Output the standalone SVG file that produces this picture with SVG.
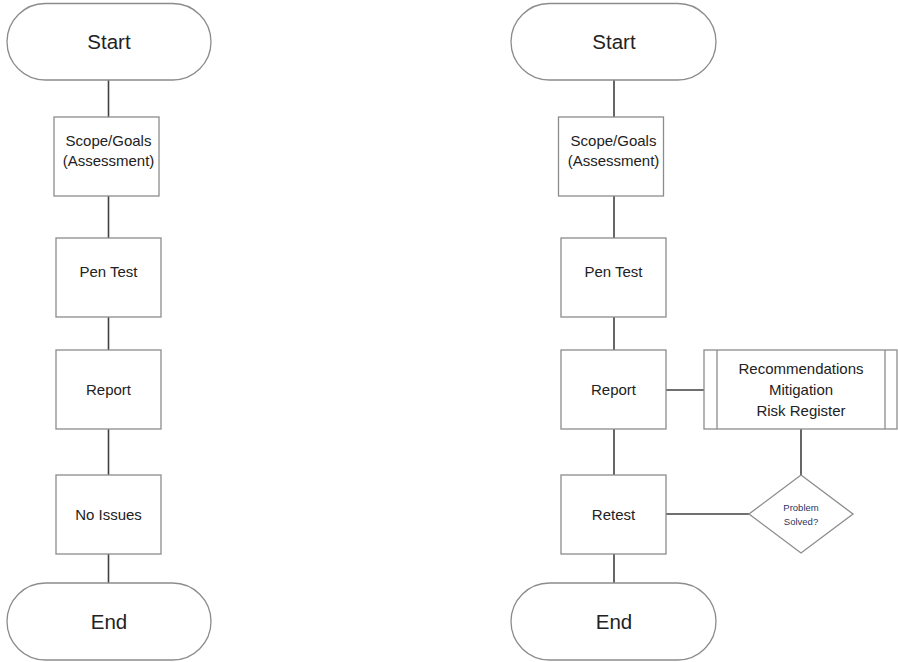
<svg xmlns="http://www.w3.org/2000/svg" width="898" height="662" viewBox="0 0 898 662">
<style>
.shape{fill:#ffffff;stroke:#8c8c8c;stroke-width:1.3}
.conn{stroke:#404040;stroke-width:1.6;fill:none}
.t{font-family:"Liberation Sans",Arial,sans-serif;font-size:15px;fill:#222;text-anchor:middle}
.big{font-size:20.5px}
.small{font-size:9.5px;fill:#1f3763}
</style>
<rect width="898" height="662" fill="#ffffff"/>
<g id="connectors">
<line class="conn" x1="108.5" y1="80" x2="108.5" y2="117"/>
<line class="conn" x1="108.5" y1="196" x2="108.5" y2="238"/>
<line class="conn" x1="108.5" y1="317" x2="108.5" y2="350"/>
<line class="conn" x1="108.5" y1="429" x2="108.5" y2="475"/>
<line class="conn" x1="108.5" y1="554" x2="108.5" y2="583"/>
<line class="conn" x1="614" y1="80" x2="614" y2="117"/>
<line class="conn" x1="614" y1="196" x2="614" y2="238"/>
<line class="conn" x1="614" y1="317" x2="614" y2="350"/>
<line class="conn" x1="614" y1="429" x2="614" y2="475"/>
<line class="conn" x1="614" y1="554" x2="614" y2="583"/>
<line class="conn" x1="666" y1="390" x2="704" y2="390"/>
<line class="conn" x1="801" y1="429" x2="801" y2="475"/>
<line class="conn" x1="666" y1="514" x2="749" y2="514"/>
</g>
<g id="start-left"><rect class="shape" x="7" y="3.5" width="204" height="76.5" rx="38.25"/><text class="t big" x="109" y="49">Start</text></g>
<g id="scope-left"><rect class="shape" x="54" y="117" width="105" height="79"/><text class="t" x="108.5" y="146">Scope/Goals</text><text class="t" x="108.5" y="166">(Assessment)</text></g>
<g id="pentest-left"><rect class="shape" x="56" y="238" width="105" height="79"/><text class="t" x="108.5" y="277">Pen Test</text></g>
<g id="report-left"><rect class="shape" x="56" y="350" width="105" height="79"/><text class="t" x="108.5" y="395">Report</text></g>
<g id="noissues-left"><rect class="shape" x="56" y="475" width="105" height="79"/><text class="t" x="108.5" y="520">No Issues</text></g>
<g id="end-left"><rect class="shape" x="7" y="583" width="204" height="77" rx="38.5"/><text class="t big" x="109" y="629">End</text></g>
<g id="start-right"><rect class="shape" x="511" y="3.5" width="205" height="76.5" rx="38.25"/><text class="t big" x="614" y="49">Start</text></g>
<g id="scope-right"><rect class="shape" x="558.5" y="117" width="105" height="79"/><text class="t" x="613.5" y="146">Scope/Goals</text><text class="t" x="613.5" y="166">(Assessment)</text></g>
<g id="pentest-right"><rect class="shape" x="561" y="238" width="105" height="79"/><text class="t" x="613.5" y="277">Pen Test</text></g>
<g id="report-right"><rect class="shape" x="561" y="350" width="105" height="79"/><text class="t" x="613.5" y="395">Report</text></g>
<g id="recommendations"><rect class="shape" x="704" y="350" width="193" height="79"/><line class="shape" x1="717" y1="350" x2="717" y2="429"/><line class="shape" x1="885" y1="350" x2="885" y2="429"/><text class="t" x="801" y="374">Recommendations</text><text class="t" x="801" y="395">Mitigation</text><text class="t" x="801" y="416">Risk Register</text></g>
<g id="retest-right"><rect class="shape" x="561" y="475" width="105" height="79"/><text class="t" x="613.5" y="520">Retest</text></g>
<g id="problem-solved"><polygon class="shape" points="801,475 853,514 801,553 749,514"/><text class="t small" x="801" y="511">Problem</text><text class="t small" x="801" y="525">Solved?</text></g>
<g id="end-right"><rect class="shape" x="511" y="583" width="205" height="77" rx="38.5"/><text class="t big" x="614" y="629">End</text></g>
</svg>
